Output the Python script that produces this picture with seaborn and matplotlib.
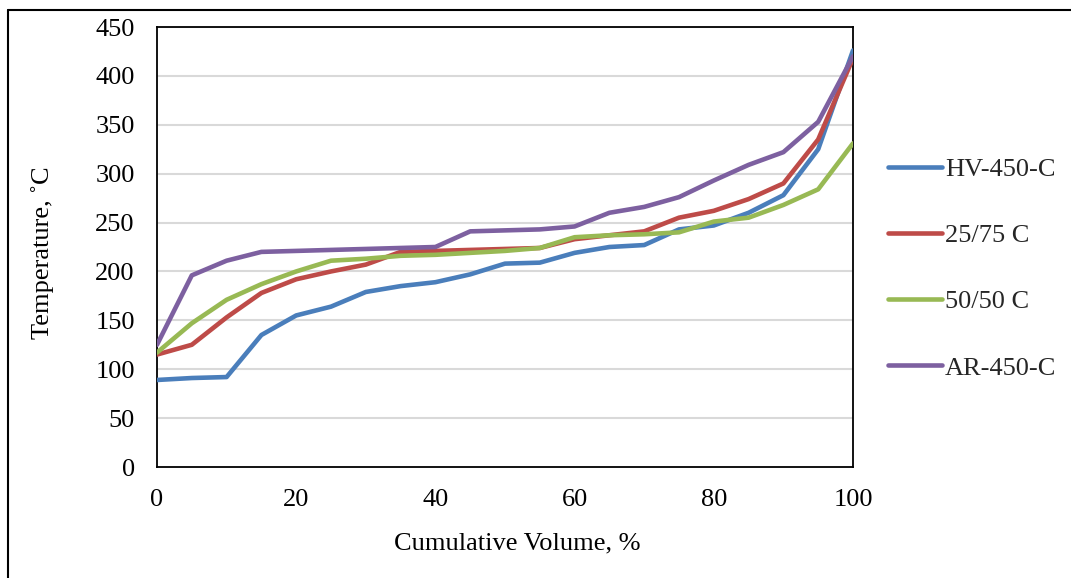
import matplotlib
matplotlib.use("Agg")
import matplotlib.pyplot as plt
import seaborn as sns
import pandas as pd
from matplotlib.lines import Line2D

volume = [0, 5, 10, 15, 20, 25, 30, 35, 40, 45, 50, 55, 60, 65, 70, 75, 80, 85, 90, 95, 100]
hv_450_c = [89, 91, 92, 135, 155, 164, 179, 185, 189, 197, 208, 209, 219, 225, 227, 243, 247, 260, 278, 325, 426]
c_25_75 = [115, 125, 153, 178, 192, 200, 207, 220, 221, 222, 223, 224, 233, 237, 241, 255, 262, 274, 290, 335, 418]
c_50_50 = [117, 147, 171, 187, 200, 211, 213, 216, 217, 219, 221, 224, 235, 237, 238, 240, 251, 255, 268, 284, 331]
ar_450_c = [125, 196, 211, 220, 221, 222, 223, 224, 225, 241, 242, 243, 246, 260, 266, 276, 293, 309, 322, 353, 420]

series_names = ["HV-450-C", "25/75 C", "50/50 C", "AR-450-C"]
colors = ["#4A7EBB", "#BE4B48", "#98B954", "#7D60A0"]

df = pd.concat([
    pd.DataFrame({"Volume": volume, "Temperature": vals, "Series": name})
    for name, vals in zip(series_names, [hv_450_c, c_25_75, c_50_50, ar_450_c])
])

sns.set_theme(style="white")
plt.rcParams["font.family"] = ["Liberation Serif", "DejaVu Serif"]

FS = 19

fig = plt.figure(figsize=(10.71, 5.78), dpi=100)
ax = fig.add_axes([157 / 1071, 1 - 467 / 578, (853 - 157) / 1071, (467 - 27) / 578])

for y in range(50, 451, 50):
    ax.axhline(y, color="#D9D9D9", lw=1.5, zorder=0)

sns.lineplot(data=df, x="Volume", y="Temperature", hue="Series",
             hue_order=series_names, palette=colors, linewidth=3.3,
             ax=ax, legend=True, zorder=3)

ax.set_xlim(0, 100)
ax.set_ylim(0, 450)
ax.set_xticks(range(0, 101, 20))
ax.set_yticks(range(0, 451, 50))
ax.tick_params(axis="both", labelsize=FS, length=0, colors="black")
ax.tick_params(axis="x", pad=16)
ax.tick_params(axis="y", pad=16)
ax.set_xlabel("Cumulative Volume, %", fontsize=FS, color="black", va="center")
ax.set_ylabel("Temperature, ˚C", fontsize=FS, color="black", va="center")
ax.xaxis.set_label_coords((517 - 157) / 696, (467 - 543) / 440)
ax.yaxis.set_label_coords((43 - 157) / 696, (467 - 253) / 440)
for s in ax.spines.values():
    s.set_color("black")
    s.set_linewidth(1.3)

leg = ax.legend(loc="center left", bbox_to_anchor=((888 - 157) / 696, (467 - 268.5) / 440),
                frameon=False, fontsize=FS, handlelength=2.05, handletextpad=0.1,
                labelspacing=1.62, borderpad=0, borderaxespad=0)
for line in leg.get_lines():
    line.set_linewidth(3.3)
    line.set_solid_capstyle("round")

fig.add_artist(Line2D([8 / 1071, 1.0], [1 - 10 / 578, 1 - 10 / 578], color="black", lw=1.5, transform=fig.transFigure))
fig.add_artist(Line2D([8 / 1071, 8 / 1071], [0.0, 1 - 10 / 578], color="black", lw=1.5, transform=fig.transFigure))

fig.savefig("out.png", dpi=100)
